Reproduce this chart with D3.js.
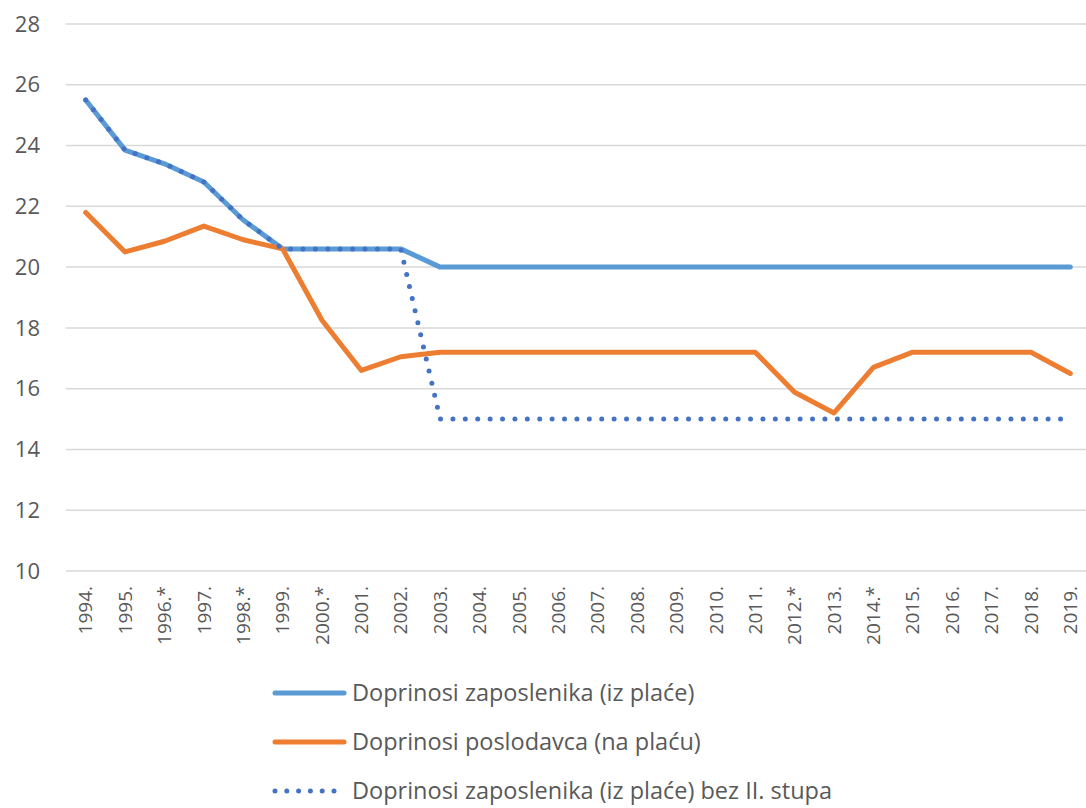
<!DOCTYPE html>
<head>
    <meta charset="utf-8">
    <script src="https://d3js.org/d3.v7.min.js"></script>
    <style>
      body { margin: 0; background: #fff; }
      text {
        font-family: "Open Sans", sans-serif;
        fill: #595959;
      }
    </style>
</head>
<body>
    <script>
        // data
        var years = ["1994.","1995.","1996.*","1997.","1998.*","1999.","2000.*","2001.","2002.","2003.",
                     "2004.","2005.","2006.","2007.","2008.","2009.","2010.","2011.","2012.*","2013.",
                     "2014.*","2015.","2016.","2017.","2018.","2019."]
        var zaposlenik = [25.5,23.85,23.4,22.8,21.55,20.6,20.6,20.6,20.6,20,
                          20,20,20,20,20,20,20,20,20,20,
                          20,20,20,20,20,20]
        var poslodavac = [21.8,20.5,20.85,21.35,20.9,20.6,18.25,16.6,17.05,17.2,
                          17.2,17.2,17.2,17.2,17.2,17.2,17.2,17.2,15.88,15.2,
                          16.7,17.2,17.2,17.2,17.2,16.5]
        var bezStupa = [25.5,23.85,23.4,22.8,21.55,20.6,20.6,20.6,20.6,15,
                        15,15,15,15,15,15,15,15,15,15,
                        15,15,15,15,15,15]
        var yTicks = [10,12,14,16,18,20,22,24,26,28]
        var seriesNames = ["Doprinosi zaposlenika (iz plaće)",
                           "Doprinosi poslodavca (na plaću)",
                           "Doprinosi zaposlenika (iz plaće) bez II. stupa"]

        var W = 1086, H = 808
        var svg = d3.select("body").append("svg")
          .attr("width", W)
          .attr("height", H)

        var x = d3.scalePoint()
          .domain(years)
          .range([66, 1090])
          .padding(0.5)
        var y = d3.scaleLinear()
          .domain([10, 28])
          .range([571, 24])

        // gridlines
        svg.append("g").selectAll("line")
          .data(yTicks)
          .enter().append("line")
          .attr("x1", 66).attr("x2", 1090)
          .attr("y1", function(d){ return y(d) })
          .attr("y2", function(d){ return y(d) })
          .attr("stroke", "#d9d9d9")
          .attr("stroke-width", 1.5)

        // y tick labels
        svg.append("g").selectAll("text")
          .data(yTicks)
          .enter().append("text")
          .attr("x", 40)
          .attr("y", function(d){ return y(d) })
          .attr("dy", "0.35em")
          .attr("text-anchor", "end")
          .style("font-size", "22px")
          .text(function(d){ return d })

        // x tick labels
        svg.append("g").selectAll("text")
          .data(years)
          .enter().append("text")
          .attr("transform", function(d){ return "translate(" + x(d) + ",586) rotate(-90)" })
          .attr("dy", "0.35em")
          .attr("text-anchor", "end")
          .style("font-size", "19px")
          .text(function(d){ return d })

        var line = d3.line()
          .x(function(d, i){ return x(years[i]) })
          .y(function(d){ return y(d) })

        var styles = [
          {color: "#5b9bd5", dash: null, cap: "round"},
          {color: "#ed7d31", dash: null, cap: "round"},
          {color: "#4472c4", dash: "0 12.4", cap: "round"}
        ]
        var allSeries = [zaposlenik, poslodavac, bezStupa]

        svg.append("g").selectAll("path")
          .data(allSeries)
          .enter().append("path")
          .attr("d", function(d){ return line(d) })
          .attr("fill", "none")
          .attr("stroke", function(d, i){ return styles[i].color })
          .attr("stroke-width", 5)
          .attr("stroke-linejoin", "round")
          .attr("stroke-linecap", function(d, i){ return styles[i].cap })
          .attr("stroke-dasharray", function(d, i){ return styles[i].dash })

        // legend
        var legendY = [693, 742, 791]
        var legend = svg.append("g").selectAll("g")
          .data(seriesNames)
          .enter().append("g")
          .attr("transform", function(d, i){ return "translate(0," + legendY[i] + ")" })
        legend.append("line")
          .attr("x1", 275).attr("x2", 344)
          .attr("y1", 0).attr("y2", 0)
          .attr("stroke", function(d, i){ return styles[i].color })
          .attr("stroke-width", 5)
          .attr("stroke-linecap", "round")
          .attr("stroke-dasharray", function(d, i){ return styles[i].dash ? "0 11.8" : null })
        legend.append("text")
          .attr("x", 352)
          .attr("y", 0)
          .attr("dy", "0.35em")
          .style("font-size", "23.5px")
          .text(function(d){ return d })
    </script>
</body>
